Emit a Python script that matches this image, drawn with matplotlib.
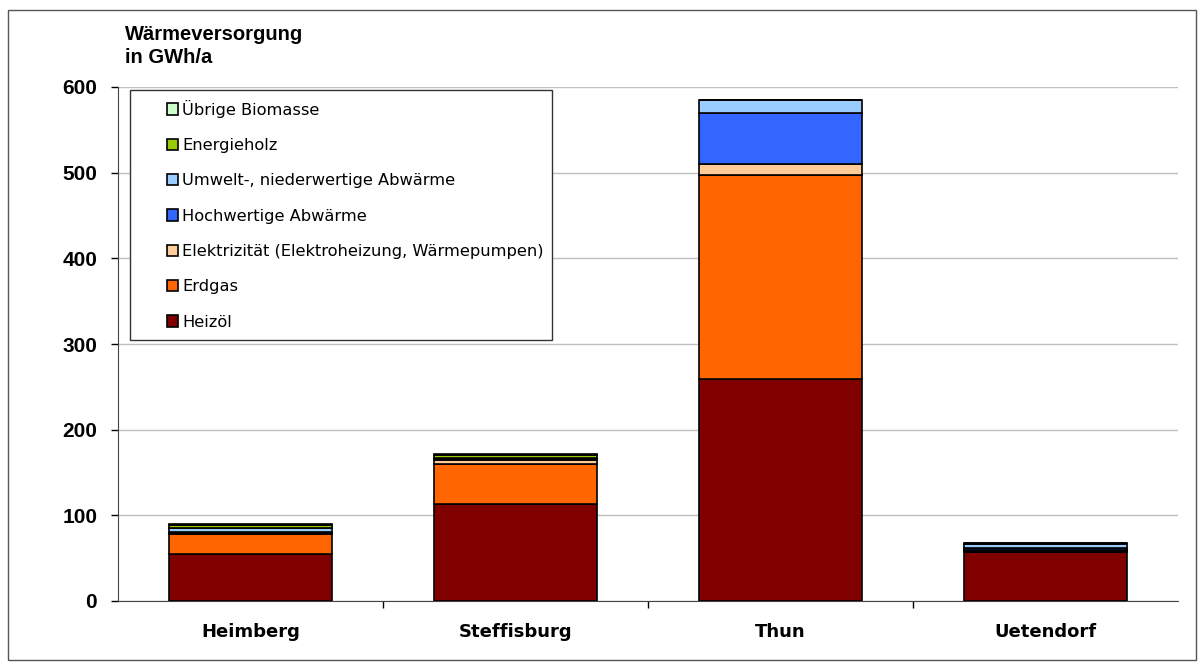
import numpy as np
import matplotlib.pyplot as plt
from matplotlib.patches import Rectangle

# Data (GWh/a)
gemeinden = ["Heimberg", "Steffisburg", "Thun", "Uetendorf"]
heizoel = [55, 113, 259, 57]
erdgas = [23, 47, 238, 1]
elektrizitaet = [1, 5, 13, 1]
hochwertige_abwaerme = [2, 0.5, 60, 3]
umwelt_abwaerme = [4, 1.5, 15, 5]
energieholz = [4, 4, 0, 0.3]
uebrige_biomasse = [0.5, 0.5, 0, 0.2]

series = [
    ("Heizöl", heizoel, "#800000"),
    ("Erdgas", erdgas, "#FF6600"),
    ("Elektrizität (Elektroheizung, Wärmepumpen)", elektrizitaet, "#FFCC99"),
    ("Hochwertige Abwärme", hochwertige_abwaerme, "#3366FF"),
    ("Umwelt-, niederwertige Abwärme", umwelt_abwaerme, "#99CCFF"),
    ("Energieholz", energieholz, "#99CC00"),
    ("Übrige Biomasse", uebrige_biomasse, "#CCFFCC"),
]

W, H = 1204, 663
fig = plt.figure(figsize=(W / 100, H / 100), dpi=100)
ax = fig.add_axes([118 / W, 1 - 601 / H, 1060 / W, 514 / H])

x = np.arange(len(gemeinden))
bottom = np.zeros(len(gemeinden))
handles = []
for label, vals, col in series:
    vals = np.array(vals, dtype=float)
    b = ax.bar(x, vals, bottom=bottom, width=0.615, color=col,
               edgecolor="black", linewidth=1.2, label=label, zorder=3)
    handles.append(b)
    bottom += vals

ax.set_xlim(-0.5, 3.5)
ax.set_ylim(0, 600)
ax.set_yticks(range(0, 601, 100))
ax.yaxis.grid(True, color="#c0c0c0", linewidth=1.0, zorder=0)
ax.set_axisbelow(True)

ax.set_xticks(x)
ax.set_xticklabels(gemeinden, fontsize=13, fontweight="bold", family="DejaVu Sans")
ax.set_xticks([0.5, 1.5, 2.5], minor=True)
ax.tick_params(axis="x", which="major", length=0, pad=16)
ax.tick_params(axis="x", which="minor", length=5, width=1, direction="out")
ax.tick_params(axis="y", length=5, width=1, direction="out", pad=10)
for t in ax.get_yticklabels():
    t.set_fontsize(15)
    t.set_fontweight("bold")
    t.set_family("Liberation Sans")

for s in ["top", "right"]:
    ax.spines[s].set_visible(False)
ax.spines["left"].set_color("#444444")
ax.spines["bottom"].set_color("#444444")

fig.text(125 / W, 1 - 46 / H, "Wärmeversorgung\nin GWh/a", fontsize=14.5,
         fontweight="bold", family="Liberation Sans", va="center", ha="left",
         linespacing=1.3)

# Legend with Excel-style box
fig.patches.append(Rectangle((130 / W, 1 - 340 / H), 422 / W, 250 / H,
                             transform=fig.transFigure, fill=True,
                             facecolor="white", edgecolor="#333333",
                             linewidth=1.0, zorder=5))
leg = fig.legend(handles[::-1], [s[0] for s in series][::-1],
                 loc="upper left", bbox_to_anchor=(152 / W, 1 - 85 / H),
                 frameon=False, handlelength=0.7,
                 handleheight=0.7, handletextpad=0.25, labelspacing=1.25,
                 prop={"family": "DejaVu Sans", "size": 11.7})
leg.set_zorder(6)

# outer frame
fig.patches.append(Rectangle((8 / W, 1 - 660 / H), 1188 / W, 650 / H,
                             transform=fig.transFigure, fill=False,
                             edgecolor="#555555", linewidth=1.0))

fig.savefig("out.png", dpi=100)
